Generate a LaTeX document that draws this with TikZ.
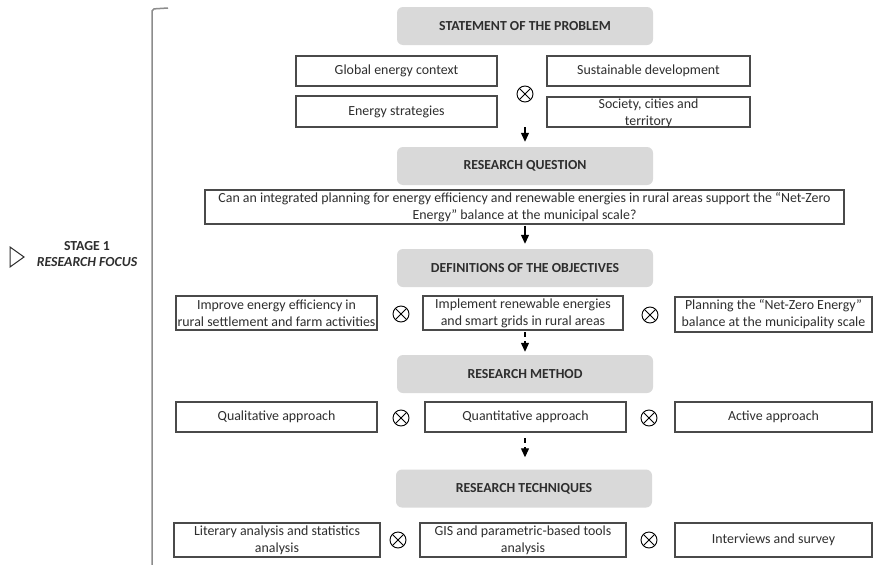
\documentclass[tikz,border=0pt]{standalone}
\usepackage{fontspec}
\setmainfont{Carlito}
\usetikzlibrary{arrows.meta}
\definecolor{boxc}{HTML}{4A4A4A}
\definecolor{txtc}{HTML}{2E2E2E}
\definecolor{hdrfill}{HTML}{D9D9D9}
\definecolor{brc}{HTML}{8C8C8C}
\begin{document}
\begin{tikzpicture}[x=1pt,y=-1pt,
  hdr/.style={fill=hdrfill, rounded corners=6pt, minimum width=256pt, minimum height=38pt, inner sep=0pt,
     font=\fontsize{13.8}{15}\selectfont\bfseries, text=txtc},
  tbox/.style={draw=boxc, line width=1.1pt, inner sep=0pt, align=center,
     font=\fontsize{13.9}{17}\selectfont, text=txtc},
  ttxt/.style={inner sep=0pt, align=center, font=\fontsize{13.9}{17}\selectfont, text=txtc},
  otim/.style={circle, draw=black, line width=0.9pt, minimum size=16pt, inner sep=0pt,
     path picture={\draw[line width=0.9pt] (path picture bounding box.north west) -- (path picture bounding box.south east)
        (path picture bounding box.north east) -- (path picture bounding box.south west);}},
  arr/.style={line width=1.2pt, -{Triangle[length=9pt,width=8pt]}},
  darr/.style={line width=1.2pt, dash pattern=on 5pt off 4pt, -{Triangle[length=9pt,width=8pt]}}
]
\useasboundingbox (0,0) rectangle (873,565);
\fill[white] (0,0) rectangle (873,565);

% left bracket and stage label
\draw[brc, line width=1.5pt, rounded corners=2pt] (168,8) -- (152,9) -- (152,565);
\draw[txtc, line width=1pt] (10,247) -- (24,257) -- (10,267) -- cycle;
\node[text=txtc, font=\fontsize{13.8}{16}\selectfont\bfseries, align=center] (stage) at (87,254)
  {STAGE 1\\\itshape RESEARCH FOCUS};

% headers
\node[hdr] (stmt) at (525,26) {STATEMENT OF THE PROBLEM};
\node[hdr] (rq) at (525,166) {RESEARCH QUESTION};
\node[hdr] (def) at (525,268) {DEFINITIONS OF THE OBJECTIVES};
\node[hdr] (meth) at (525,374) {RESEARCH METHOD};
\node[hdr] (tech) at (524,488.5) {RESEARCH TECHNIQUES};

% statement row
\node[tbox, minimum width=201pt, minimum height=30pt] (glob) at (396.5,71) {Global energy context};
\node[tbox, minimum width=201pt, minimum height=31pt] (strat) at (396.5,111.5) {Energy strategies};
\node[tbox, minimum width=203pt, minimum height=30pt] (sust) at (648.5,71) {Sustainable development};
\node[draw=boxc, line width=1.1pt, inner sep=0pt, minimum width=203pt, minimum height=30pt] (soc) at (648.5,112) {};
\node[ttxt] (soctxt) at (648.5,113) {Society, cities and\\territory};
\node[otim] (x1) at (525,94) {};

% question
\node[tbox, minimum width=639pt, minimum height=34pt] (q) at (524.5,207)
  {Can an integrated planning for energy efficiency and renewable energies in rural areas support the “Net-Zero\\Energy” balance at the municipal scale?};

% objectives
\node[tbox, minimum width=201pt, minimum height=34pt] (imp) at (276.5,313)
  {Improve energy efficiency in\\rural settlement and farm activities};
\node[tbox, minimum width=200pt, minimum height=34pt] (ren) at (523,313)
  {Implement renewable energies\\and smart grids in rural areas};
\node[tbox, minimum width=197pt, minimum height=35pt] (plan) at (773.5,314.5)
  {Planning the “Net-Zero Energy”\\balance at the municipality scale};
\node[otim] (x2) at (401,314) {};
\node[otim] (x3) at (650,315) {};

% method
\node[tbox, minimum width=201pt, minimum height=30pt] (qual) at (276.5,417) {Qualitative approach};
\node[tbox, minimum width=201pt, minimum height=30pt] (quant) at (525.5,417) {Quantitative approach};
\node[tbox, minimum width=197pt, minimum height=30pt] (act) at (773.5,417) {Active approach};
\node[otim] (x4) at (401,418) {};
\node[otim] (x5) at (649,418) {};

% techniques
\node[tbox, minimum width=206pt, minimum height=34pt] (lit) at (277,540)
  {Literary analysis and statistics\\analysis};
\node[tbox, minimum width=206pt, minimum height=34pt] (gis) at (523,540)
  {GIS and parametric-based tools\\analysis};
\node[tbox, minimum width=197pt, minimum height=34pt] (int) at (773.5,540) {Interviews and survey};
\node[otim] (x6) at (398,540) {};
\node[otim] (x7) at (649,540) {};

% arrows
\coordinate (a1s) at (525,127);
\draw[arr, shorten >=5pt] (a1s) -- (rq.north);
\draw[arr, shorten <=1pt, shorten >=5pt] (q.south -| def.north) -- (def.north);
\coordinate (a3s) at (525,330);
\draw[darr, shorten <=2pt, shorten >=3pt] (a3s) -- (meth.north);
\coordinate (a4s) at (525,432);
\draw[darr, shorten <=6pt, shorten >=12pt] (a4s) -- (tech.north -| a4s);
\end{tikzpicture}
\end{document}
